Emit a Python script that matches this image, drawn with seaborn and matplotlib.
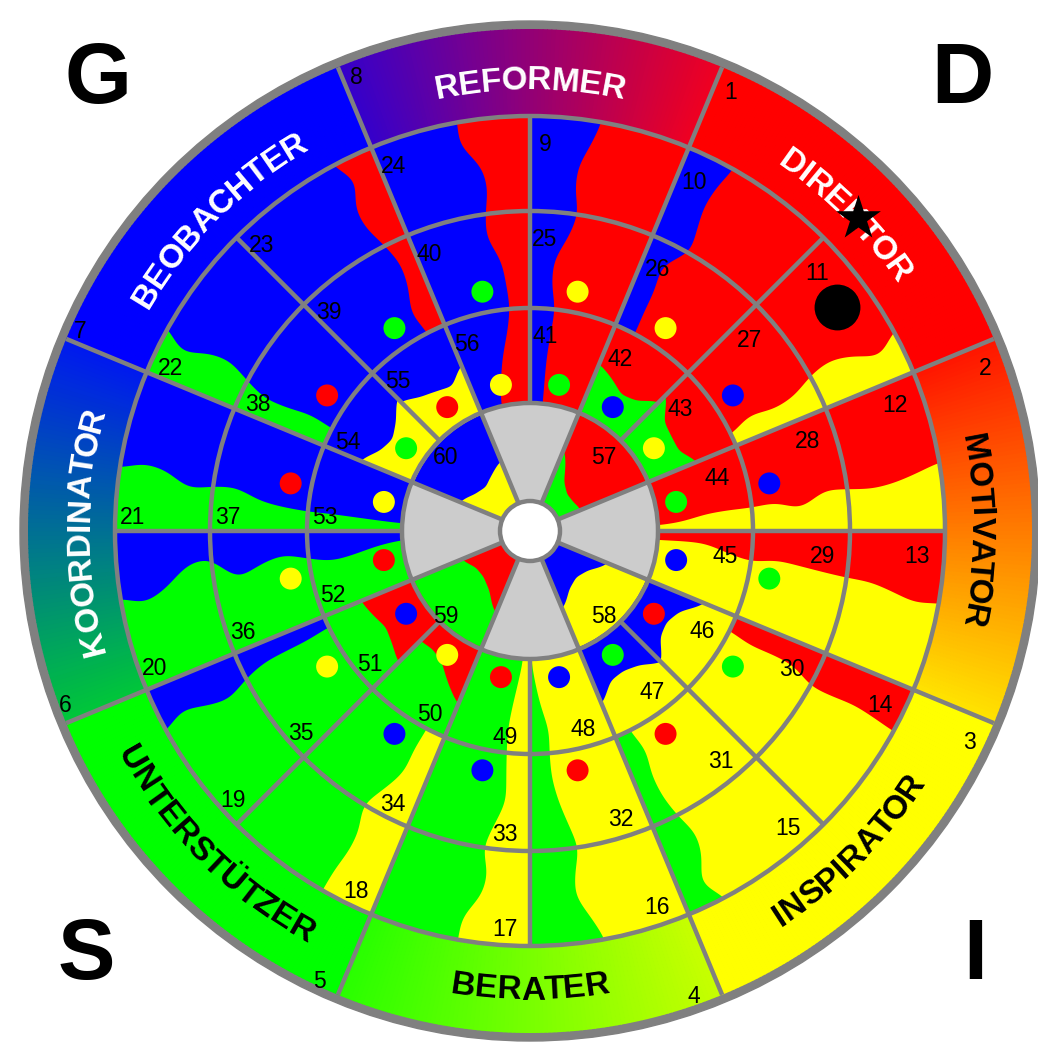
import numpy as np
import pandas as pd
import matplotlib
matplotlib.use('Agg')
import matplotlib.pyplot as plt
import seaborn as sns
from matplotlib.patches import Polygon, Circle
from matplotlib.font_manager import FontProperties
from matplotlib.colors import to_rgb

sns.set_theme(style='white')
plt.rcParams['font.family'] = ['Liberation Sans', 'DejaVu Sans']

# Bildgroesse und Radien (Pixel)
W, H = 1038, 1049
CX, CY = 530, 531
R_HOLE, R1, R2, R3, R4, R5, R_EDGE = 30, 128, 223, 320, 415, 502, 510

PAL = {'r': '#ff0000', 'b': '#0000ff', 'g': '#00ff00', 'y': '#ffff00'}
GRAU = '#808080'
HUB = '#cccccc'
LW = 3.2

# Typen im Aussenring, im Uhrzeigersinn ab 67.5 Grad
TYPEN = ['DIREKTOR', 'MOTIVATOR', 'INSPIRATOR', 'BERATER',
         'UNTERSTÜTZER', 'KOORDINATOR', 'BEOBACHTER', 'REFORMER']
TYP_SCHRIFT = ['white', 'black', 'black', 'black', 'black', 'white', 'white', 'white']
TYP_START = ['#ff0000', '#ff1400', '#ffff00', '#c8ff00', '#00ff00', '#00c838', '#0000ff', '#3400cc']
TYP_ENDE = ['#ff0000', '#ffe400', '#ffff00', '#28ff00', '#00ff00', '#0018f0', '#0000ff', '#f00020']
ECKEN = ['G', 'D', 'S', 'I']
ECK_X = [98, 962, 86, 975]
ECK_Y = [103, 103, 979, 979]

# 16 Spalten je 22.5 Grad, im Uhrzeigersinn ab 90 Grad
SP_BASIS = ['r', 'r', 'r', 'r', 'y', 'y', 'y', 'y', 'g', 'g', 'g', 'g', 'b', 'b', 'b', 'b']
PUNKT_MITTE = ['y', 'y', 'b', 'b', 'g', 'g', 'r', 'r', 'b', 'b', 'y', 'y', 'r', 'r', 'g', 'g']
PUNKT_INNEN = ['g', 'b', 'y', 'g', 'b', 'r', 'g', 'b', 'r', 'y', 'b', 'r', 'y', 'g', 'r', 'y']

# Wellenbaender an den Speichen: Spalte, Kante, Farbe, Breite (Grad) bei R_PTS
R_PTS = [128, 152, 175, 199, 223, 247, 271, 296, 320, 344, 367, 391, 415]
nan = np.nan
N4 = [nan, nan, nan, nan]
BAENDER = [
    (0, 'S', 'b', [5.7, 5.5, 5.5, 6, 6.5, 5, 5, 7.5, 8.7, 7.5, 7.5, 9, 10]),
    (1, 'S', 'b', N4 + [5.5, 5, 4.9, 3.8, 7.5, 6.5, 5.7, 6, 6.9]),
    (2, 'E', 'y', N4 + [3, 5.5, 4, 4.5, 6.5, 7.2, 6, 3.8, 6.5]),
    (3, 'E', 'y', [2.5, 3.5, 5.5, 6, 6, 6.7, 4.5, 8, 7.5, 7, 7.5, 8.5, 9.6]),
    (4, 'S', 'r', [4, 3.8, 4, 6.5, 8, 6.7, 7.4, 8, 8.4, 8.5, 9.5, 10.6, 10]),
    (5, 'S', 'r', N4 + [4, 5, 4.5, 4.5, 6.5, 6.2, 5.7, 6, 6.4]),
    (6, 'E', 'g', N4 + [4, 5.5, 4, 4, 4.9, 6.3, 5.5, 3.2, 5.7]),
    (7, 'E', 'g', [0.5, 2, 3.5, 5.5, 5, 5, 6, 7.5, 8.8, 7.5, 7, 9, 10.5]),
    (8, 'S', 'y', [3, 4.5, 5.7, 6.4, 6, 5.5, 5, 7, 8.5, 7, 7.5, 10, 10]),
    (9, 'S', 'y', N4 + [5, 5.5, 5, 7, 9, 7.2, 7, 7.5, 7.5]),
    (10, 'E', 'b', N4 + [3, 3.7, 3.7, 3.8, 5, 6.8, 5.9, 4.6, 6.4]),
    (11, 'E', 'b', [4, 5.5, 7.5, 8.7, 7.1, 5.4, 7, 9.5, 4.8, 5.5, 8.9, 10.7, 9.3]),
    (12, 'S', 'g', [3.4, 4, 4.5, 4.9, 5, 5.5, 6.3, 8.5, 8, 7, 9.4, 10, 8.7]),
    (13, 'S', 'g', N4 + [4.8, 5.5, 4.4, 4, 5.5, 7.1, 6.5, 4.5, 6.9]),
    (14, 'E', 'r', N4 + [4.8, 6.3, 4, 3.3, 4.5, 6, 6, 3.8, 6]),
    (15, 'E', 'r', [13, 11, 9, 6.5, 5.1, 5.5, 6, 8.5, 8, 7, 7.5, 10.4, 10.1]),
]

# Flecken an den Innenkreisen: Winkel von/bis, Basisradius, Farbe, Dicke (px) an 5 Stellen
FLECKEN = [
    (45, 67.5, 128, 'g', [55, 40, 36, 45, 53]),
    (22.5, 45, 128, 'g', [53, 41, 42, 45, 65]),
    (-45, -22.5, 128, 'b', [58, 40, 36, 42, 62]),
    (-67.5, -45, 128, 'b', [60, 42, 40, 45, 58]),
    (-135, -112.5, 128, 'r', [27, 25, 30, 45, 60]),
    (-157.5, -135, 128, 'r', [55, 50, 45, 50, 58]),
    (135, 157.5, 128, 'y', [60, 45, 37, 42, 56]),
    (112.5, 135, 128, 'y', [52, 36, 40, 45, 55]),
    (22.5, 67.5, 30, 'g', [25, 22, 22, 30, 60]),
    (-67.5, -22.5, 30, 'b', [55, 40, 35, 40, 55]),
    (-157.5, -112.5, 30, 'r', [44, 35, 35, 42, 60]),
    (112.5, 157.5, 30, 'y', [46, 38, 32, 36, 46]),
]

HUB_FELDER = [('r', 22.5, 67.5), ('y', -67.5, -22.5), ('g', -157.5, -112.5), ('b', 112.5, 157.5)]
HUB_NUM = [57, 58, 59, 60]
HUB_NUM_WINKEL = [45, -45, -135, 135]

STERN_R, STERN_W = 453, 43.7
KREIS_R, KREIS_W = 380, 36.2


def pxy(r, a):
    t = np.radians(a)
    return CX + r * np.cos(t), CY - r * np.sin(t)


def sektor(r0, r1, a0, a1):
    n = max(int(abs(a1 - a0) * 2) + 2, 4)
    a = np.linspace(a0, a1, n)
    xo, yo = pxy(r1, a)
    xi, yi = pxy(r0, a[::-1])
    return np.column_stack([np.r_[xo, xi], np.r_[yo, yi]])


def glatt(v, sig):
    k = np.exp(-0.5 * (np.arange(-3 * sig, 3 * sig + 1) / sig) ** 2)
    k /= k.sum()
    p = len(k) // 2
    return np.convolve(np.pad(v, p, mode='edge'), k, mode='valid')


fig = plt.figure(figsize=(W / 100, H / 100), dpi=100)
ax = fig.add_axes([0, 0, 1, 1])

# Rand
ax.add_patch(Circle((CX, CY), R_EDGE, color=GRAU, zorder=0))

# Aussenring mit Verlaeufen
for k in range(8):
    a_s = 67.5 - 45 * k
    c0, c1 = np.array(to_rgb(TYP_START[k])), np.array(to_rgb(TYP_ENDE[k]))
    n = 90
    for j in range(n):
        f = (j + 0.5) / n
        col = (1 - f) * c0 + f * c1
        aa0 = a_s - 45 * j / n
        aa1 = a_s - 45 * (j + 1) / n
        ax.add_patch(Polygon(sektor(R4, R5, aa1 - 0.05, aa0 + 0.05), closed=True,
                             facecolor=col, edgecolor='none', zorder=1))

# Grundfarben der Spalten
for k in range(16):
    a_s = 90 - 22.5 * k
    ax.add_patch(Polygon(sektor(R1, R4, a_s - 22.5, a_s), closed=True,
                         facecolor=PAL[SP_BASIS[k]], edgecolor='none', zorder=1))

# Wellenbaender
for sp, kante, c, wb in BAENDER:
    w = np.array(wb, float)
    ok = ~np.isnan(w)
    rp = np.array(R_PTS, float)[ok]
    r = np.arange(rp[0], rp[-1] + 1, 1.0)
    ww = glatt(np.interp(r, rp, w[ok]), 9)
    a_s = 90 - 22.5 * sp
    if kante == 'S':
        linie = a_s
        rand = a_s - ww
    else:
        linie = a_s - 22.5
        rand = linie + ww
    x1, y1 = pxy(r, np.full_like(r, linie))
    x2, y2 = pxy(r[::-1], rand[::-1])
    ax.add_patch(Polygon(np.column_stack([np.r_[x1, x2], np.r_[y1, y2]]), closed=True,
                         facecolor=PAL[c], edgecolor='none', zorder=2))

# Nabe: graue Keile und Farbfelder
for a in [90, 0, -90, 180]:
    ax.add_patch(Polygon(sektor(R_HOLE - 2, R1, a - 22.5, a + 22.5), closed=True,
                         facecolor=HUB, edgecolor='none', zorder=1))
for c, a0, a1 in HUB_FELDER:
    ax.add_patch(Polygon(sektor(R_HOLE - 2, R1, a0, a1), closed=True,
                         facecolor=PAL[c], edgecolor='none', zorder=1))

# Flecken
for a0, a1, rb, c, dick in FLECKEN:
    a = np.linspace(a0, a1, 240)
    t = glatt(np.interp(a, np.linspace(a0, a1, 5), dick), 14)
    xo, yo = pxy(rb + t, a)
    xi, yi = pxy(np.full_like(a, rb - 2.0), a[::-1])
    ax.add_patch(Polygon(np.column_stack([np.r_[xo, xi], np.r_[yo, yi]]), closed=True,
                         facecolor=PAL[c], edgecolor='none', zorder=2))

# Linien
for r in [R1, R2, R3, R4]:
    ax.add_patch(Circle((CX, CY), r, fill=False, edgecolor=GRAU, lw=LW, zorder=4))
ax.add_patch(Circle((CX, CY), R_HOLE, facecolor='white', edgecolor=GRAU, lw=LW, zorder=4))
for k in range(16):
    a = 90 - 22.5 * k
    if k % 2 == 1:
        r0, r1 = R_HOLE, R5
    else:
        r0, r1 = R1, R4
    x, y = pxy(np.array([r0, r1]), np.array([a, a]))
    ax.plot(x, y, color=GRAU, lw=LW, solid_capstyle='butt', zorder=4)

# Punkte
mitten = 90 - 22.5 * np.arange(16) - 11.25
px_m, py_m = pxy(244, mitten)
px_i, py_i = pxy(149, mitten)
punkte = pd.DataFrame({
    'x': np.r_[px_m, px_i],
    'y': np.r_[py_m, py_i],
    'farbe': PUNKT_MITTE + PUNKT_INNEN,
})
sns.scatterplot(data=punkte, x='x', y='y', hue='farbe', palette=PAL, s=250,
                linewidth=0, legend=False, ax=ax, zorder=5)

sx, sy = pxy(STERN_R, STERN_W)
kx, ky = pxy(KREIS_R, KREIS_W)
ax.scatter([kx], [ky], s=1090, color='black', linewidth=0, zorder=5)
ax.scatter([sx], [sy], s=1150, marker='*', color='black', linewidth=0, zorder=8)

# Nummern
fp_num = FontProperties(family='Liberation Sans', size=16.5)


def nummer(n, r_c, a_start):
    d = np.degrees(20.0 / r_c)
    x, y = pxy(r_c, a_start - d)
    ax.text(x - 5, y + 6, str(n), ha='center', va='center', fontproperties=fp_num,
            color='black', zorder=6)


for k in range(8):
    nummer(k + 1, 490, 67.5 - 45 * k)
for k in range(16):
    a_s = 90 - 22.5 * k
    nummer(9 + k, R4 - 22, a_s)
    nummer(25 + k, R3 - 22, a_s)
    nummer(41 + k, R2 - 22, a_s)
for n, a in zip(HUB_NUM, HUB_NUM_WINKEL):
    x, y = pxy(112, a)
    ax.text(x - 5, y + 6, str(n), ha='center', va='center', fontproperties=fp_num,
            color='black', zorder=6)

# Beschriftung im Aussenring entlang des Bogens
fp_typ = FontProperties(family='Liberation Sans', weight='bold', size=24)
rend = fig.canvas.get_renderer()


def bogen_text(txt, a_mitte, rad, oben, farbe):
    pre = [0.0] + [rend.get_text_width_height_descent(txt[:i], fp_typ, ismath=False)[0]
                   for i in range(1, len(txt) + 1)]
    tot = pre[-1]
    for i, ch in enumerate(txt):
        m = (pre[i] + pre[i + 1]) / 2 - tot / 2
        d = np.degrees(m / rad)
        a = a_mitte - d if oben else a_mitte + d
        rot = a - 90 if oben else a + 90
        x, y = pxy(rad, a)
        ax.text(x, y, ch, rotation=rot, rotation_mode='anchor', ha='center', va='center',
                fontproperties=fp_typ, color=farbe, zorder=6)


for k in range(8):
    a_m = 45 - 45 * k
    oben = k not in (2, 3, 4)
    bogen_text(TYPEN[k], a_m, 450 if oben else 460, oben, TYP_SCHRIFT[k])

# Eckbuchstaben
for b, x, y in zip(ECKEN, ECK_X, ECK_Y):
    ax.text(x, y, b, ha='center', va='baseline', fontsize=62, fontweight='bold',
            color='black', family='Liberation Sans')

ax.set_xlim(0, W)
ax.set_ylim(H, 0)
ax.axis('off')
fig.savefig('out.png', dpi=100)
